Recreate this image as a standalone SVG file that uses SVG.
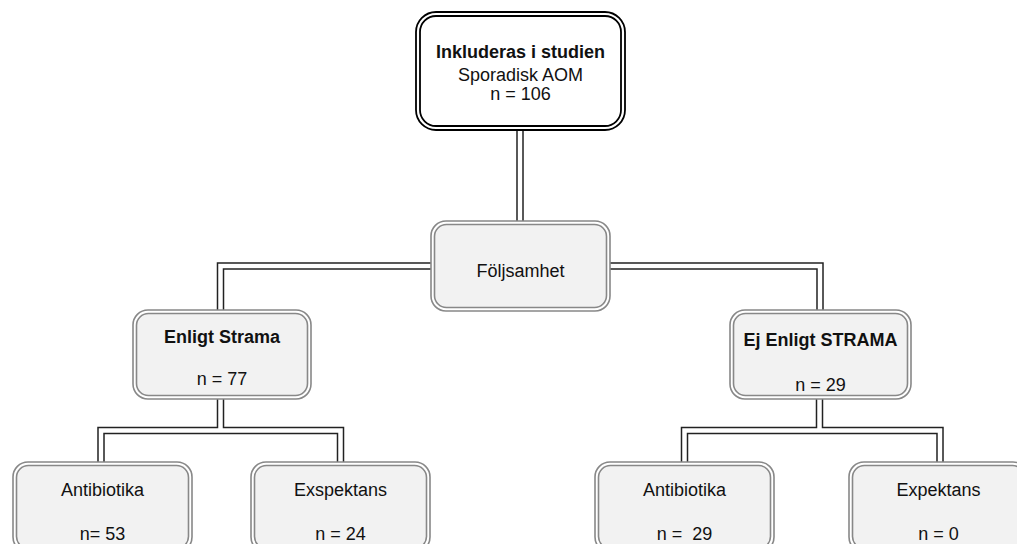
<svg xmlns="http://www.w3.org/2000/svg" width="1017" height="544" viewBox="0 0 1017 544">
<style>
.t{font-family:"Liberation Sans",Arial,sans-serif;font-size:18px;fill:#111;text-anchor:middle}
.b{font-weight:bold}
.o{fill:#fff;stroke:#888;stroke-width:1.6}
.i{fill:#f2f2f2;stroke:#888;stroke-width:1.6}
.ok{fill:#fff;stroke:#000;stroke-width:1.8}
.ik{fill:#fff;stroke:#000;stroke-width:1.8}
.cb{fill:none;stroke:#222;stroke-width:7.5;stroke-linejoin:miter}
.cw{fill:none;stroke:#fff;stroke-width:4.5;stroke-linejoin:miter}
</style>
<rect width="1017" height="544" fill="#fff"/>
<g id="connectors">
<path class="cb" d="M520,128V223 M433,266H220.5V312 M608,266H820V312 M220.5,397V430.5 M101,464V430.5H340.5V464 M819.5,397V430.5 M684.5,464V430.5H940V464"/>
<path class="cw" d="M520,128V223 M433,266H220.5V312 M608,266H820V312 M220.5,397V430.5 M101,464V430.5H340.5V464 M819.5,397V430.5 M684.5,464V430.5H940V464"/>
</g>
<g id="n-top">
<rect class="ok" x="416" y="12" width="209" height="118" rx="20"/>
<rect class="ik" x="420" y="16" width="201" height="110" rx="16"/>
<text class="t b" x="520.5" y="58">Inkluderas i studien</text>
<text class="t" x="520.5" y="81">Sporadisk AOM</text>
<text class="t" x="520.5" y="100">n = 106</text>
</g>
<g id="n-folj">
<rect class="o" x="431" y="221" width="179" height="90" rx="15"/>
<rect class="i" x="434.5" y="224.5" width="172" height="83" rx="12"/>
<text class="t" x="520.5" y="277">Följsamhet</text>
</g>
<g id="n-enligt">
<rect class="o" x="133" y="310" width="178" height="89" rx="15"/>
<rect class="i" x="136.5" y="313.5" width="171" height="82" rx="12"/>
<text class="t b" x="222" y="343">Enligt Strama</text>
<text class="t" x="222" y="385">n = 77</text>
</g>
<g id="n-ej">
<rect class="o" x="730" y="310" width="181" height="89" rx="15"/>
<rect class="i" x="733.5" y="313.5" width="174" height="82" rx="12"/>
<text class="t b" x="820.5" y="346">Ej Enligt STRAMA</text>
<text class="t" x="820.5" y="391">n = 29</text>
</g>
<g id="n-ab1">
<rect class="o" x="13" y="462" width="179" height="90" rx="15"/>
<rect class="i" x="16.5" y="465.5" width="172" height="83" rx="12"/>
<text class="t" x="102.5" y="496">Antibiotika</text>
<text class="t" x="102.5" y="540">n= 53</text>
</g>
<g id="n-ex1">
<rect class="o" x="251" y="462" width="179" height="90" rx="15"/>
<rect class="i" x="254.5" y="465.5" width="172" height="83" rx="12"/>
<text class="t" x="340.5" y="496">Exspektans</text>
<text class="t" x="340.5" y="540">n = 24</text>
</g>
<g id="n-ab2">
<rect class="o" x="595" y="462" width="179" height="90" rx="15"/>
<rect class="i" x="598.5" y="465.5" width="172" height="83" rx="12"/>
<text class="t" x="684.5" y="496">Antibiotika</text>
<text class="t" x="684.5" y="540" xml:space="preserve">n =  29</text>
</g>
<g id="n-ex2">
<rect class="o" x="849" y="462" width="179" height="90" rx="15"/>
<rect class="i" x="852.5" y="465.5" width="172" height="83" rx="12"/>
<text class="t" x="938.5" y="496">Expektans</text>
<text class="t" x="938.5" y="540">n = 0</text>
</g>
</svg>
